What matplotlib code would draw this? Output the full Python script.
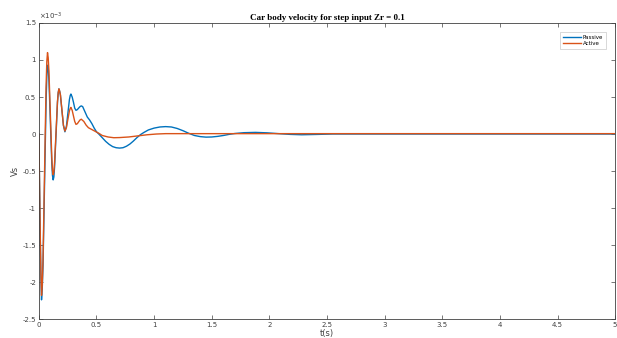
import matplotlib.pyplot as plt

#-----Data (values in units of 1e-3)-----#
t_passive = [0, 0.006, 0.012, 0.018, 0.023, 0.029, 0.036, 0.0495, 0.063, 0.070, 0.076,
             0.082, 0.088, 0.100, 0.112, 0.118, 0.124, 0.130, 0.1365, 0.149, 0.1615,
             0.168, 0.174, 0.180, 0.187, 0.200, 0.213, 0.226, 0.239, 0.252, 0.265,
             0.272, 0.278, 0.289, 0.300, 0.311, 0.322, 0.334, 0.345, 0.357, 0.368,
             0.38, 0.40, 0.42, 0.44, 0.46, 0.48, 0.50, 0.52, 0.55, 0.58, 0.61,
             0.64, 0.67, 0.70, 0.73, 0.76, 0.79, 0.82, 0.85, 0.88, 0.91, 0.95,
             1.00, 1.05, 1.10, 1.15, 1.20, 1.25, 1.30, 1.35, 1.40, 1.45, 1.50,
             1.55, 1.60, 1.65, 1.70, 1.78, 1.88, 1.98, 2.08, 2.18, 2.28, 2.40,
             2.55, 3.0, 4.0, 5.0]
v_passive = [0, -0.7, -1.4, -1.95, -2.24, -2.1, -1.78, -0.655, 0.465, 0.82, 0.93,
             0.87, 0.70, 0.155, -0.39, -0.56, -0.62, -0.58, -0.44, -0.005, 0.43,
             0.56, 0.61, 0.58, 0.525, 0.32, 0.115, 0.03, 0.105, 0.285, 0.465,
             0.52, 0.54, 0.50, 0.43, 0.35, 0.32, 0.33, 0.35, 0.37, 0.38,
             0.37, 0.30, 0.23, 0.19, 0.14, 0.08, 0.03, 0.0, -0.05, -0.10, -0.14,
             -0.17, -0.185, -0.19, -0.185, -0.165, -0.135, -0.095, -0.05, -0.01, 0.02, 0.055,
             0.08, 0.095, 0.10, 0.095, 0.075, 0.045, 0.01, -0.02, -0.035, -0.042, -0.04,
             -0.032, -0.02, -0.005, 0.007, 0.018, 0.022, 0.016, 0.005, -0.005, -0.01, -0.006,
             0.0, 0.0, 0.0, 0.0]

t_active = [0, 0.006, 0.012, 0.018, 0.023, 0.029, 0.036, 0.049, 0.062, 0.069, 0.075,
            0.081, 0.087, 0.0995, 0.112, 0.118, 0.124, 0.130, 0.1365, 0.149, 0.1615,
            0.168, 0.174, 0.180, 0.187, 0.200, 0.213, 0.226, 0.239, 0.252, 0.265,
            0.272, 0.278, 0.289, 0.300, 0.311, 0.322, 0.334, 0.345, 0.357, 0.368,
            0.39, 0.41, 0.43, 0.46, 0.49, 0.52, 0.55, 0.60, 0.65, 0.70, 0.78,
            0.86, 0.94, 1.02, 1.10, 2.0, 3.0, 4.0, 5.0]
v_active = [0, -0.68, -1.36, -1.9, -2.18, -2.05, -1.70, -0.54, 0.62, 0.98, 1.10,
            1.03, 0.86, 0.275, -0.31, -0.49, -0.55, -0.51, -0.38, 0.03, 0.44,
            0.56, 0.61, 0.58, 0.53, 0.325, 0.12, 0.04, 0.087, 0.2, 0.313,
            0.345, 0.36, 0.32, 0.245, 0.17, 0.13, 0.14, 0.165, 0.19, 0.20,
            0.17, 0.12, 0.085, 0.06, 0.035, 0.01, -0.02, -0.04, -0.05, -0.048, -0.04,
            -0.025, -0.01, 0.0, 0.005, 0.005, 0.005, 0.005, 0.005]

x_ticks = [0, 0.5, 1, 1.5, 2, 2.5, 3, 3.5, 4, 4.5, 5]
x_tick_labels = ['0', '0.5', '1', '1.5', '2', '2.5', '3', '3.5', '4', '4.5', '5']
y_ticks = [-2.5, -2, -1.5, -1, -0.5, 0, 0.5, 1, 1.5]
y_tick_labels = ['-2.5', '-2', '-1.5', '-1', '-0.5', '0', '0.5', '1', '1.5']

#-----Plot-----#
axcol = '#404040'
fig = plt.figure(figsize=(6.17, 3.38), dpi=100)
ax = fig.add_axes([0.063, 0.056, 0.934, 0.876])

ax.plot(t_passive, v_passive, color='#0072BD', lw=1.0, label='Passive')
ax.plot(t_active, v_active, color='#D95319', lw=1.0, label='Active')

ax.set_xlim(0, 5)
ax.set_ylim(-2.5, 1.5)
ax.set_xticks(x_ticks)
ax.set_xticklabels(x_tick_labels)
ax.set_yticks(y_ticks)
ax.set_yticklabels(y_tick_labels)
ax.tick_params(direction='in', length=3, width=0.5, labelsize=5, colors=axcol,
               top=True, right=True, pad=2)
for s in ax.spines.values():
    s.set_linewidth(0.6)
    s.set_color(axcol)

ax.text(0.0, 1.005, r'$\times10^{-3}$', transform=ax.transAxes, fontsize=5,
        color=axcol, ha='left', va='bottom')
ax.set_title('Car body velocity for step input Zr = 0.1', family='Liberation Serif',
             fontweight='bold', fontsize=6.5, pad=2)
ax.set_ylabel('Vs', fontsize=6, color=axcol, labelpad=2)
ax.set_xlabel('t(s)', fontsize=6, color=axcol, labelpad=1)

leg = ax.legend(loc='upper right', fontsize=4, frameon=True, fancybox=False,
                handlelength=3.2, handletextpad=0.4, borderpad=0.5, labelspacing=0.3,
                borderaxespad=0, bbox_to_anchor=(0.984, 0.97))
leg.get_frame().set_edgecolor('#bbbbbb')
leg.get_frame().set_linewidth(0.5)

fig.savefig('out.png', dpi=100)
